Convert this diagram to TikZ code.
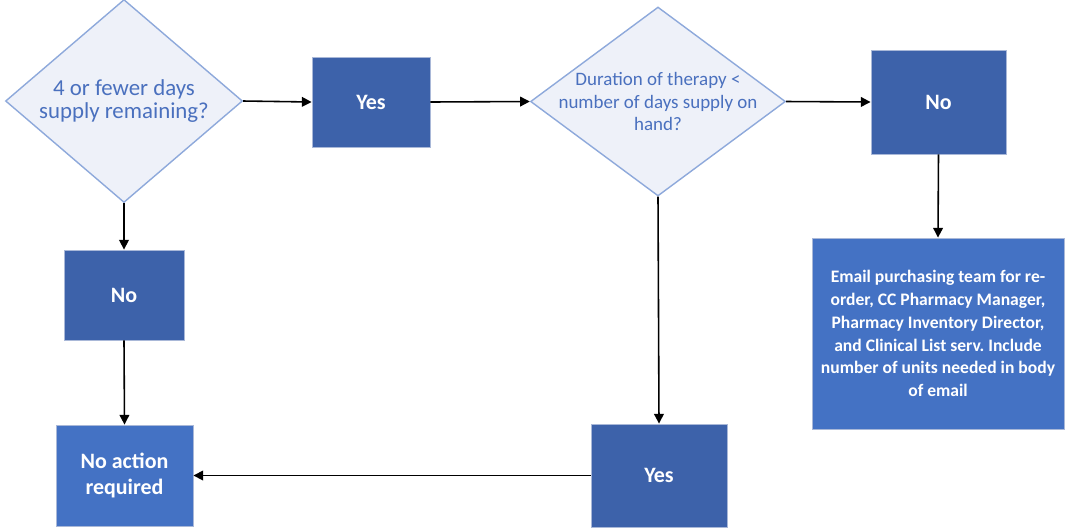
\documentclass[tikz,border=0pt]{standalone}
\usepackage{fontspec}
\setmainfont{Carlito}
\usepackage{xcolor}
\definecolor{flowDark}{HTML}{3D62AA}
\definecolor{flowLight}{HTML}{4472C4}
\definecolor{flowEdge}{HTML}{A9B8D8}
\definecolor{askLine}{HTML}{8EA9DB}
\definecolor{askFill}{HTML}{EEF1F9}
\definecolor{askText}{HTML}{4A70BE}
\usepackage{tikz}
\usetikzlibrary{shapes.geometric, arrows.meta, positioning}

\begin{document}
\begin{tikzpicture}[
  ask/.style={
    diamond, draw=askLine, fill=askFill, line width=0.8pt,
    inner sep=0pt
  },
  asktext/.style={text=askText, align=center, inner sep=0pt},
  answer/.style={
    draw=flowEdge, fill=flowDark, line width=0.5pt,
    text=white, font=\bfseries\fontsize{12.5}{15.3}\selectfont, align=center
  },
  action/.style={answer, fill=flowLight},
  arrow/.style={-{Triangle[length=5.5pt, width=5.5pt]}, line width=0.9pt, color=black}
]
  \useasboundingbox (0,0) rectangle (21.3,-10.58);
  % questions
  \node[ask, minimum width=4.74cm, minimum height=4.06cm,
    label={[asktext, font=\fontsize{13}{13.6}\selectfont]center:4 or fewer days\\supply remaining?}]
    (q1) at (2.48,-2.02) {};
  \node[ask, minimum width=5.10cm, minimum height=3.78cm,
    label={[asktext, font=\fontsize{10.8}{12.8}\selectfont]center:Duration of therapy <\\number of days supply on\\hand?}]
    (q2) at (13.16,-2.03) {};
  % answers
  \node[answer, minimum width=2.36cm, minimum height=1.80cm] (yes1) at (7.42,-2.04) {Yes};
  \node[answer, minimum width=2.70cm, minimum height=2.08cm] (no1) at (18.77,-2.04) {No};
  \node[answer, minimum width=2.40cm, minimum height=1.80cm] (no2) at (2.48,-5.90) {No};
  \node[answer, minimum width=2.72cm, minimum height=2.06cm] (yes2) at (13.18,-9.51) {Yes};
  % actions
  \node[action, minimum width=2.74cm, minimum height=2.02cm] (none) at (2.49,-9.51) {No action\\required};
  \node[action, minimum width=5.04cm, minimum height=3.82cm, font=\bfseries\fontsize{10}{13}\selectfont]
    (email) at (18.76,-6.67) {Email purchasing team for re-\\order, CC Pharmacy Manager,\\Pharmacy Inventory Director,\\and Clinical List serv.\ Include\\number of units needed in body\\of email};
  \draw[arrow] (q1.east) -- (yes1.west);
  \draw[arrow] (yes1.east) -- (q2.west);
  \draw[arrow] (q2.east) -- (no1.west);
  \draw[arrow] (no1.south) -- (email.north);
  \draw[arrow] (q1.south) -- (no2.north);
  \draw[arrow] (no2.south) -- (none.north);
  \draw[arrow] (q2.south) -- (yes2.north);
  \draw[arrow] (yes2.west) -- (none.east);
\end{tikzpicture}
\end{document}
